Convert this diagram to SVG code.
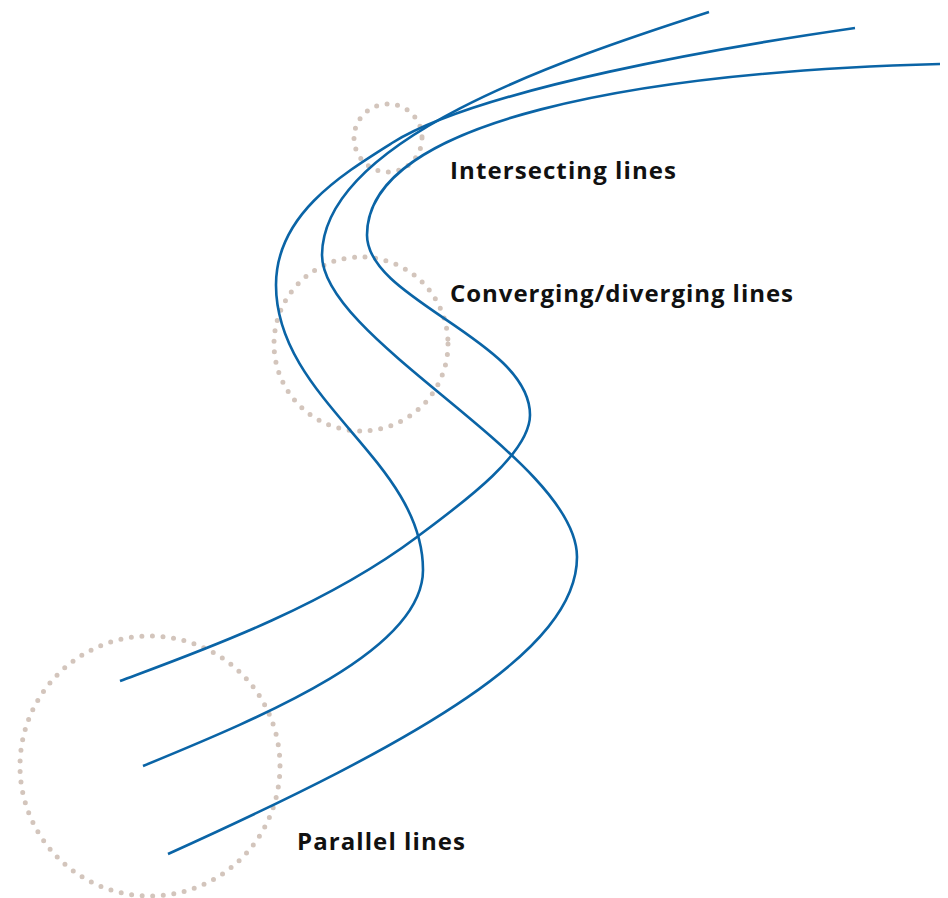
<svg xmlns="http://www.w3.org/2000/svg" width="948" height="898" viewBox="0 0 948 898">
<style>
.ring{fill:none;stroke:#d3c5bc;stroke-width:5;stroke-linecap:round;stroke-dasharray:0 10.6}
.line{fill:none;stroke:#0a64a6;stroke-width:2.6;stroke-linecap:butt}
.lbl{font-family:"Open Sans","Noto Sans","Liberation Sans",sans-serif;font-weight:700;font-size:24px;fill:#111}
</style>
<rect width="948" height="898" fill="#fff"/>
<g id="zones">
<circle id="zone-intersecting" class="ring" cx="388" cy="138" r="34"/>
<circle id="zone-converging" class="ring" cx="361" cy="344" r="87"/>
<circle id="zone-parallel" class="ring" cx="150" cy="766" r="130"/>
</g>
<g id="connectors">
<path id="line-a" class="line" d="M709,12 C560,60 323,140 322,255 C322,340 577,460 577,557 C577,650 420,740 168,854"/>
<path id="line-b" class="line" d="M855,28 C730,46 480,88 392,143 C341,175 276,215 276,285 C276,400 423,460 423,570 C423,650 267,715 143,766"/>
<path id="line-c" class="line" d="M940,64 C640,72 367,120 367,235 C367,300 530,340 530,415 C530,455 457,507 417,537 C321,609 195,653 120,681"/>
</g>
<g id="label-intersecting"><text class="lbl" x="450" y="179" textLength="226">Intersecting lines</text></g>
<g id="label-converging"><text class="lbl" x="450" y="302" textLength="343">Converging/diverging lines</text></g>
<g id="label-parallel"><text class="lbl" x="297" y="850" textLength="168">Parallel lines</text></g>
</svg>
